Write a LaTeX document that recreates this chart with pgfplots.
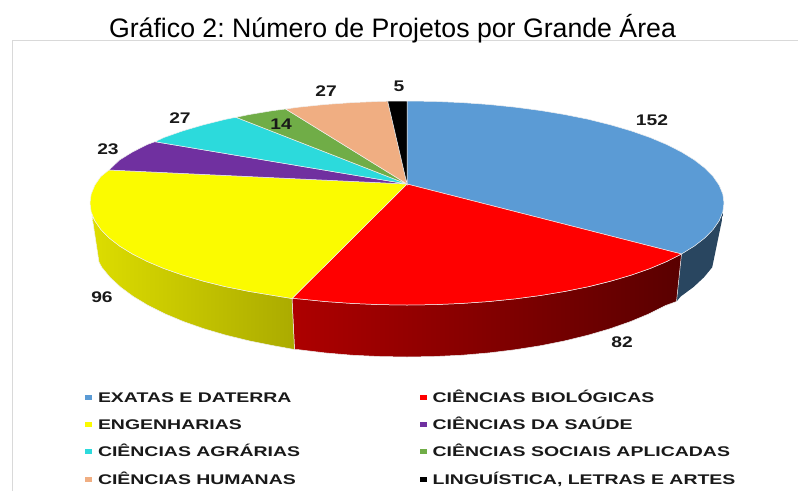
\documentclass[border=0pt]{standalone}
\usepackage{pgfplots}
\pgfplotsset{compat=1.18}
\usepackage{fontspec}
\setmainfont{Liberation Sans}
\newfontfamily\widebold[FakeStretch=1.39]{Liberation Sans Bold}
\newfontfamily\widenum[FakeStretch=1.25]{Liberation Sans Bold}
\definecolor{cblue}{HTML}{5B9BD5}
\definecolor{cred}{HTML}{FF0000}
\definecolor{cyel}{HTML}{FBFB00}
\definecolor{cpur}{HTML}{7030A0}
\definecolor{ccya}{HTML}{2CDADC}
\definecolor{cgre}{HTML}{70AD47}
\definecolor{cpea}{HTML}{F0AE82}
\definecolor{frame}{HTML}{D9D9D9}
\frenchspacing
\begin{document}
\begin{tikzpicture}
\path[use as bounding box] (0,0) rectangle (798pt,491pt);
\begin{axis}[
    at={(0,0)}, anchor=south west,
    width=798pt, height=491pt, scale only axis,
    xmin=0, xmax=798, ymin=0, ymax=491, y dir=reverse,
    hide axis, clip=false, no markers,
    legend columns=2,
    legend cell align={left},
    legend image code/.code={\path[#1,draw=none] (0pt,-2.5pt) rectangle (7pt,2.5pt);},
    legend style={at={(axis cs:85,392)}, anchor=north west, draw=none, fill=none,
        inner sep=0pt, outer sep=0pt, row sep=17.4pt,
        font=\widebold\fontsize{14}{14}\selectfont, text=black!90,
        nodes={text height=10pt, text depth=0pt, inner sep=0pt},
        /tikz/column 1/.style={column sep=6pt},
        /tikz/column 2/.style={column sep=119.5pt},
        /tikz/column 3/.style={column sep=6pt}},
    every axis plot/.append style={line width=0.5pt, draw=white!88!gray},
]
% chart frame
\addplot[frame, line width=1pt, forget plot] coordinates {(12,491) (12,40.5) (798,40.5)};

% pie walls, traced in pixels
\addplot[forget plot, fill=black!0, draw=none, left color=cblue!45!black, right color=cblue!45!black]
  coordinates {(722.8,211.9) (719.2,220.7) (713.2,229.4) (704.9,237.9) (694.3,246.1) (681.5,254)
  (676.5,301.5) (680.7,296.5) (693.4,287.1) (703.9,277.4) (712.2,267.3) (722.8,216)} --cycle;
\addplot[forget plot, left color=cred!68!black, right color=cred!35!black]
  coordinates {(681.5,254) (666.7,261.5) (649.8,268.6) (631.2,275.1) (610.8,281.1) (588.8,286.6)
  (565.5,291.3) (541,295.4) (515.4,298.8) (489,301.5) (462,303.4) (434.6,304.6) (407,305)
  (379.4,304.6) (352,303.4) (325,301.5) (298.6,298.8) (292,298.5)
  (294.5,349.5) (298.9,349.7) (325.2,352.9) (352.1,355.2) (379.5,356.5) (407,357) (434.5,356.5)
  (461.9,355.2) (488.8,352.9) (515.1,349.7) (540.5,345.7) (565,340.8) (588.3,335.1) (610.1,328.7)
  (630.4,321.6) (649.1,313.8) (665.9,305.4) (676.5,301.5)} --cycle;
\addplot[forget plot, left color=cyel!88!black, right color=cyel!68!black]
  coordinates {(292,298.5) (273,295.4) (248.5,291.3) (225.2,286.6) (203.2,281.1) (182.8,275.1)
  (164.2,268.6) (147.3,261.5) (132.5,254) (119.7,246.1) (109.1,237.9) (100.8,229.4) (94.8,220.7)
  (92,216) (99,262) (101.8,267.3) (110.1,277.4) (120.6,287.1) (133.3,296.5) (148.1,305.4)
  (164.9,313.8) (183.6,321.6) (203.9,328.7) (225.7,335.1) (249,340.8) (273.5,345.7) (294.5,349.5)} --cycle;

% pie top, one wedge per area
\addplot[fill=cblue] coordinates {(407,184) (407,101) (434.6,101.4) (462,102.6) (489,104.5)
  (515.4,107.2) (541,110.6) (565.5,114.7) (588.8,119.4) (610.8,124.9) (631.2,130.9) (649.8,137.4)
  (666.7,144.5) (681.5,152) (694.3,159.9) (704.9,168.1) (713.2,176.6) (719.2,185.3) (722.8,194.1)
  (724,203) (722.8,211.9) (719.2,220.7) (713.2,229.4) (704.9,237.9) (694.3,246.1) (681.5,254)} --cycle;
\addlegendentry{EXATAS E DATERRA}
\addplot[fill=cred] coordinates {(407,184) (681.5,254) (666.7,261.5) (649.8,268.6) (631.2,275.1)
  (610.8,281.1) (588.8,286.6) (565.5,291.3) (541,295.4) (515.4,298.8) (489,301.5) (462,303.4)
  (434.6,304.6) (407,305) (379.4,304.6) (352,303.4) (325,301.5) (298.6,298.8) (292,298.5)} --cycle;
\addlegendentry{CIÊNCIAS BIOLÓGICAS}
\addplot[fill=cyel] coordinates {(407,184) (292,298.5) (273,295.4) (248.5,291.3) (225.2,286.6)
  (203.2,281.1) (182.8,275.1) (164.2,268.6) (147.3,261.5) (132.5,254) (119.7,246.1) (109.1,237.9)
  (100.8,229.4) (94.8,220.7) (91.2,211.9) (90,203) (91.2,194.1) (94.8,185.3) (100.8,176.6) (109,170)} --cycle;
\addlegendentry{ENGENHARIAS}
\addplot[fill=cpur] coordinates {(407,184) (109,170) (119.7,159.9) (132.5,152) (147.3,144.5) (155,141.7)} --cycle;
\addlegendentry{CIÊNCIAS DA SAÚDE}
\addplot[fill=ccya] coordinates {(407,184) (155,141.7) (164.2,137.4) (182.8,130.9) (203.2,124.9)
  (225.2,119.4) (236,117.3)} --cycle;
\addlegendentry{CIÊNCIAS AGRÁRIAS}
\addplot[fill=cgre] coordinates {(407,184) (236,117.3) (248.5,114.7) (273,110.6) (285.7,109)} --cycle;
\addlegendentry{CIÊNCIAS SOCIAIS APLICADAS}
\addplot[fill=cpea] coordinates {(407,184) (285.7,109) (298.6,107.2) (325,104.5) (352,102.6)
  (379.4,101.4) (387.7,101.2)} --cycle;
\addlegendentry{CIÊNCIAS HUMANAS}
\addplot[fill=black] coordinates {(407,184) (387.7,101.2) (407,101)} --cycle;
\addlegendentry{LINGUÍSTICA, LETRAS E ARTES}

% value labels
\tikzset{vlab/.style={font=\widenum\fontsize{15.4}{15.4}\selectfont, text=black!90, inner sep=0pt}}
\node[vlab] at (axis cs:652,120) {152};
\node[vlab] at (axis cs:622,342) {82};
\node[vlab] at (axis cs:102,297) {96};
\node[vlab] at (axis cs:108,149) {23};
\node[vlab] at (axis cs:180,118) {27};
\node[vlab] at (axis cs:281,124) {14};
\node[vlab] at (axis cs:326,91) {27};
\node[vlab] at (axis cs:399,86) {5};

\node[font=\fontsize{26.7}{26.7}\selectfont, anchor=base, inner sep=0pt] at (axis cs:392.5,37) {Gráfico 2: Número de Projetos por Grande Área};
\end{axis}
\end{tikzpicture}
\end{document}
